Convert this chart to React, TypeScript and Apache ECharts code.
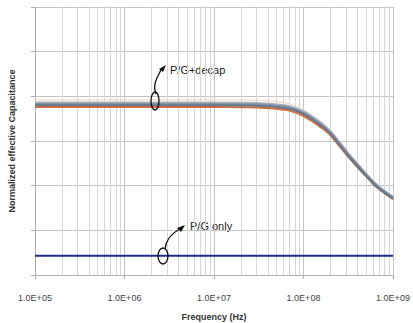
import React, { useEffect, useRef } from "react";
import * as echarts from "echarts";

const freqs = [1e5, 1e6, 1e7, 3e7, 5e7, 7e7, 1e8, 1.26e8, 1.58e8, 2e8, 2.51e8, 3.16e8, 3.98e8, 5.01e8, 6.31e8, 7.94e8, 1e9];
const decapPeach = [3.92, 3.92, 3.92, 3.91, 3.88, 3.83, 3.70, 3.57, 3.43, 3.24, 3.00, 2.75, 2.51, 2.28, 2.07, 1.90, 1.76];
const decapTop = [3.86, 3.86, 3.86, 3.85, 3.82, 3.78, 3.66, 3.54, 3.40, 3.22, 2.98, 2.73, 2.50, 2.27, 2.06, 1.89, 1.75];
const decapBlue = [3.83, 3.83, 3.83, 3.82, 3.79, 3.75, 3.63, 3.51, 3.37, 3.19, 2.95, 2.70, 2.47, 2.25, 2.04, 1.88, 1.74];
const decapSlate = [3.80, 3.80, 3.80, 3.79, 3.76, 3.72, 3.60, 3.48, 3.34, 3.16, 2.92, 2.67, 2.44, 2.22, 2.01, 1.85, 1.71];
const decapOrange = [3.76, 3.76, 3.76, 3.75, 3.72, 3.68, 3.56, 3.44, 3.30, 3.13, 2.89, 2.65, 2.42, 2.21, 2.00, 1.84, 1.70];
const pgOnlyFreqs = [1e5, 1e9];
const pgOnly = [0.43, 0.43];
const xTickLabels = ["1.0E+05", "1.0E+06", "1.0E+07", "1.0E+08", "1.0E+09"];
const minorMultipliers = [2, 3, 4, 5, 6, 7, 8, 9];
const decades = [1e5, 1e6, 1e7, 1e8];

export default function App() {
  const ref = useRef<HTMLDivElement>(null);
  useEffect(() => {
    document.body.style.margin = "0";
    const chart = echarts.init(ref.current!, null, { renderer: "svg" });
    const minorFreqs: number[] = [];
    decades.forEach((d) => minorMultipliers.forEach((m) => minorFreqs.push(d * m)));
    const pair = (vals: number[]) => freqs.map((f, i) => [f, vals[i]]);
    const curve = (name: string, vals: number[], color: string, width: number, z = 10) => ({
      name,
      type: "line",
      data: pair(vals),
      smooth: 0.3,
      showSymbol: false,
      symbol: "none",
      z,
      lineStyle: { color, width },
    });
    chart.setOption({
      animation: false,
      backgroundColor: "#ffffff",
      grid: { left: 35, right: 20, top: 7, bottom: 48, containLabel: false, outerBoundsMode: "none" },
      xAxis: {
        type: "log",
        logBase: 10,
        min: 1e5,
        max: 1e9,
        name: "Frequency (Hz)",
        nameLocation: "middle",
        nameGap: 37,
        nameTextStyle: { fontFamily: "Liberation Sans", fontSize: 9, fontWeight: "bold", color: "#333" },
        axisLine: { show: true, lineStyle: { color: "#b0b0b0" } },
        axisTick: { show: true, length: 4, lineStyle: { color: "#b0b0b0" } },
        splitLine: { show: true, lineStyle: { color: "#c4c4c4", width: 1 } },
        axisLabel: {
          margin: 18,
          fontFamily: "Liberation Sans",
          fontSize: 9,
          color: "#444",
          formatter: (v: number) => xTickLabels[Math.round(Math.log10(v)) - 5] ?? "",
        },
      },
      yAxis: {
        type: "value",
        min: 0,
        max: 6,
        interval: 1,
        name: "Normalized effective Capacitance",
        nameLocation: "middle",
        nameGap: 19,
        nameTextStyle: { fontFamily: "Liberation Sans", fontSize: 9, fontWeight: "bold", color: "#333" },
        axisLine: { show: true, lineStyle: { color: "#b0b0b0" } },
        axisTick: { show: true, length: 4, lineStyle: { color: "#b0b0b0" } },
        axisLabel: { show: false },
        splitLine: { show: true, lineStyle: { color: "#c4c4c4", width: 1 } },
      },
      series: [
        {
          name: "grid",
          type: "line",
          data: [],
          z: 1,
          markLine: {
            silent: true,
            z: 1,
            symbol: "none",
            label: { show: false },
            lineStyle: { color: "#d6d6d6", width: 1, type: "solid" },
            data: minorFreqs.map((f) => ({ xAxis: f })),
          },
        },
        curve("peach", decapPeach, "#f3d4c0", 1, 9),
        curve("orange", decapOrange, "#d46d3a", 2),
        curve("top", decapTop, "#aab0b8", 2),
        curve("blue", decapBlue, "#7f93ab", 2),
        curve("slate", decapSlate, "#68788a", 2),
        {
          name: "P/G only",
          type: "line",
          data: pgOnlyFreqs.map((f, i) => [f, pgOnly[i]]),
          symbol: "none",
          z: 10,
          lineStyle: { color: "#1c2a8c", width: 2 },
        },
      ],
      graphic: [
        { type: "text", left: 170, top: 64, style: { text: "P/G+decap", font: "11px Liberation Sans", fill: "#222" } },
        {
          type: "bezierCurve",
          z: 100,
          shape: { x1: 156, y1: 94, x2: 161, y2: 70, cpx1: 152, cpy1: 84, cpx2: 158, cpy2: 76 },
          style: { stroke: "#111", lineWidth: 1.3, fill: "none" },
        },
        { type: "polygon", z: 100, shape: { points: [[166, 65], [159, 69], [163, 72]] }, style: { fill: "#111" } },
        { type: "ellipse", z: 100, shape: { cx: 155, cy: 101, rx: 4, ry: 9 }, style: { stroke: "#111", lineWidth: 1.3, fill: "none" } },
        { type: "text", left: 190, top: 220, style: { text: "P/G only", font: "11px Liberation Sans", fill: "#222" } },
        {
          type: "bezierCurve",
          z: 100,
          shape: { x1: 165, y1: 249, x2: 180, y2: 229, cpx1: 166, cpy1: 240, cpx2: 172, cpy2: 233 },
          style: { stroke: "#111", lineWidth: 1.3, fill: "none" },
        },
        { type: "polygon", z: 100, shape: { points: [[185, 225], [177, 228], [181, 232]] }, style: { fill: "#111" } },
        { type: "ellipse", z: 100, shape: { cx: 163, cy: 256, rx: 5, ry: 8 }, style: { stroke: "#111", lineWidth: 1.3, fill: "none" } },
      ],
    });
    return () => chart.dispose();
  }, []);
  return <div ref={ref} style={{ width: 413, height: 323 }} />;
}
